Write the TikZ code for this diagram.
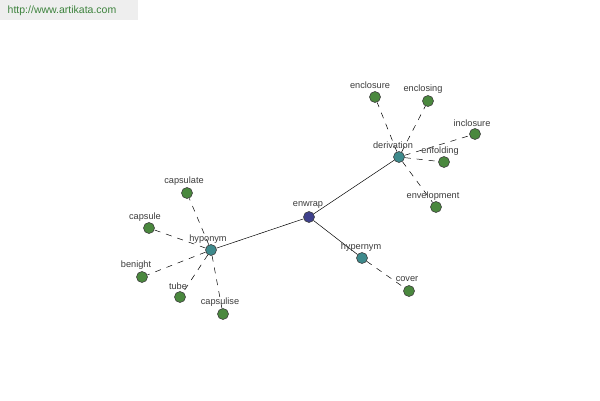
\documentclass[tikz,border=0pt]{standalone}
\usepackage{fontspec}
\setmainfont{Liberation Sans}
\definecolor{leafc}{RGB}{74,136,62}
\definecolor{midc}{RGB}{62,138,140}
\definecolor{rootc}{RGB}{62,64,140}
\definecolor{txtc}{RGB}{60,60,60}
\definecolor{wmbg}{RGB}{238,238,238}
\definecolor{wmtx}{RGB}{60,130,60}
\begin{document}
\begin{tikzpicture}[x=1pt,y=-1pt,
  dot/.style={circle,draw=black!75,line width=0.6pt,minimum size=11pt,inner sep=0pt},
  leaf/.style={dot,fill=leafc},
  mid/.style={dot,fill=midc},
  root/.style={dot,fill=rootc},
  lbl/.style={font=\fontsize{9.2}{10}\selectfont,text=txtc,inner sep=0pt},
  solidedge/.style={draw=black,line width=0.5pt},
  dashedge/.style={draw=black,line width=0.5pt,dash pattern=on 6pt off 6pt}]
\useasboundingbox (0,0) rectangle (600,400);
\fill[white] (0,0) rectangle (600,400);
\node[fill=wmbg,minimum width=138pt,minimum height=20pt,anchor=north west,inner sep=0pt] (wm) at (0,0) {};
\node[font=\fontsize{10.5}{11}\selectfont,text=wmtx] (wmt) at (62,11) {http://www.artikata.com};
% nodes
\node[root] (enwrap) at (309,217) {};
\node[mid] (hyponym) at (211,250) {};
\node[mid] (derivation) at (399,157) {};
\node[mid] (hypernym) at (362,258) {};
\node[leaf] (enclosure) at (375,97) {};
\node[leaf] (enclosing) at (428,101) {};
\node[leaf] (inclosure) at (475,134) {};
\node[leaf] (enfolding) at (444,162) {};
\node[leaf] (envelopment) at (436,207) {};
\node[leaf] (cover) at (409,291) {};
\node[leaf] (capsulate) at (187,193) {};
\node[leaf] (capsule) at (149,228) {};
\node[leaf] (benight) at (142,277) {};
\node[leaf] (tube) at (180,297) {};
\node[leaf] (capsulise) at (223,314) {};
% edges
\draw[solidedge] (enwrap) -- (hyponym);
\draw[solidedge] (enwrap) -- (derivation);
\draw[solidedge] (enwrap) -- (hypernym);
\draw[dashedge] (derivation) -- (enclosure);
\draw[dashedge] (derivation) -- (enclosing);
\draw[dashedge] (derivation) -- (inclosure);
\draw[dashedge] (derivation) -- (enfolding);
\draw[dashedge] (derivation) -- (envelopment);
\draw[dashedge] (hypernym) -- (cover);
\draw[dashedge] (hyponym) -- (capsulate);
\draw[dashedge] (hyponym) -- (capsule);
\draw[dashedge] (hyponym) -- (benight);
\draw[dashedge] (hyponym) -- (tube);
\draw[dashedge] (hyponym) -- (capsulise);
% labels
\node[lbl] (l-enwrap) at (308,205) {enwrap};
\node[lbl] (l-hyponym) at (208,239) {hyponym};
\node[lbl] (l-derivation) at (393,145) {derivation};
\node[lbl] (l-hypernym) at (361,247) {hypernym};
\node[lbl] (l-enclosure) at (370,85) {enclosure};
\node[lbl] (l-enclosing) at (423,89) {enclosing};
\node[lbl] (l-inclosure) at (472,123) {inclosure};
\node[lbl] (l-enfolding) at (440,151) {enfolding};
\node[lbl] (l-envelopment) at (433,196) {envelopment};
\node[lbl] (l-cover) at (407,279) {cover};
\node[lbl] (l-capsulate) at (184,181) {capsulate};
\node[lbl] (l-capsule) at (145,217) {capsule};
\node[lbl] (l-benight) at (136,265) {benight};
\node[lbl] (l-tube) at (178,286) {tube};
\node[lbl] (l-capsulise) at (220,302) {capsulise};
\end{tikzpicture}
\end{document}
